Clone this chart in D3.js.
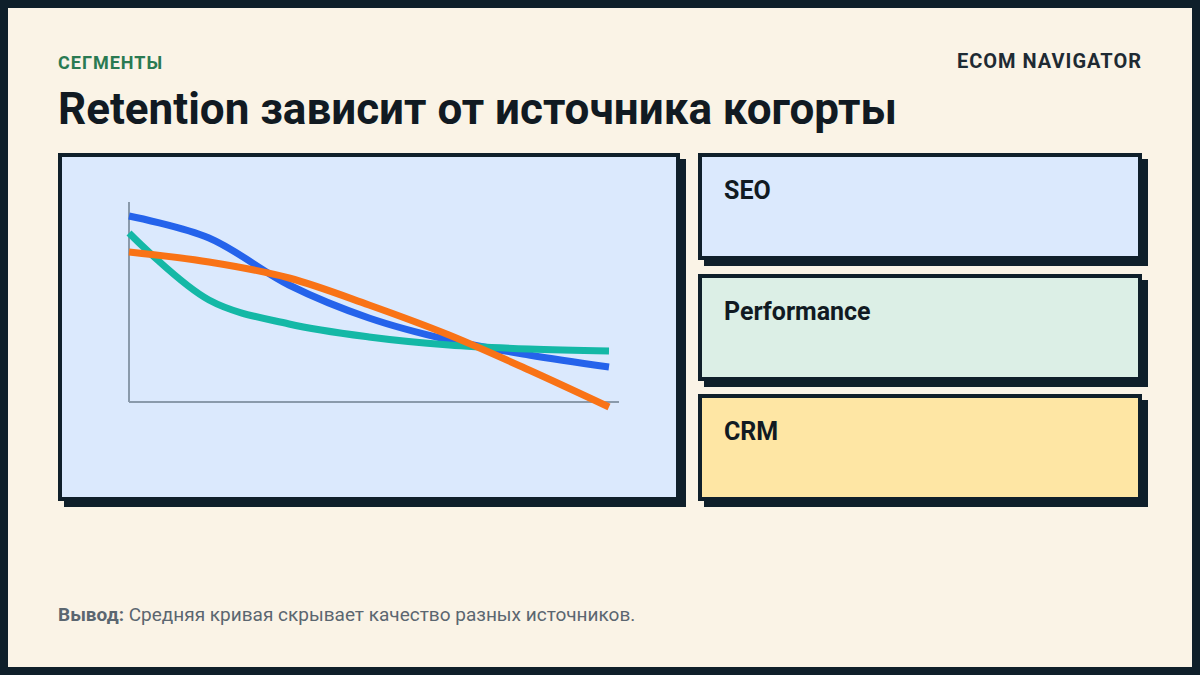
<!DOCTYPE html><html><head><meta charset="utf-8">
<script src="https://cdn.jsdelivr.net/npm/d3@7"></script>
<style>body{margin:0;background:#0f1f2a}svg{display:block}</style></head><body>
<svg id="c" width="1200" height="675"></svg>
<script>
const months=[0,2,4,6,8,10,12];
const seo=[93,82,58.5,42,31,23.5,17.5];
const performance=[84.5,51,39,32.5,28.5,26.5,25.5];
const crm=[75,70,62,48.5,33.5,16,-2.5];
const cards=["SEO","Performance","CRM"];
const cardFill=["#dbe9fd","#dcefe6","#fee6a4"];
const lineColors=["#2563eb","#14b8a6","#f97316"];
const svg=d3.select("#c"),dark="#0f1f2a";
svg.append("rect").attr("x",8).attr("y",8).attr("width",1184).attr("height",659).attr("fill","#faf3e6");
const F="Roboto, 'Noto Sans', sans-serif";
svg.append("text").attr("x",58).attr("y",69).text("СЕГМЕНТЫ").attr("font-family",F).attr("font-weight",700).attr("font-size",18).attr("letter-spacing",1).attr("fill","#2a7a52");
svg.append("text").attr("x",1142).attr("y",68).attr("text-anchor","end").text("ECOM NAVIGATOR").attr("font-family",F).attr("font-weight",700).attr("font-size",20).attr("letter-spacing",1).attr("fill","#1e2a33");
svg.append("text").attr("x",58).attr("y",124).text("Retention зависит от источника когорты").attr("font-family",F).attr("font-weight",700).attr("font-size",44).attr("fill","#111a22");
function panel(x,y,w,h,fill){
 svg.append("rect").attr("x",x+6).attr("y",y+6).attr("width",w).attr("height",h).attr("fill",dark);
 svg.append("rect").attr("x",x+2).attr("y",y+2).attr("width",w-4).attr("height",h-4).attr("fill",fill).attr("stroke",dark).attr("stroke-width",4);
}
panel(58,153,622,348,"#dbe9fd");
[153,274,394].forEach((y,i)=>{panel(698,y,444,107,cardFill[i]);
 svg.append("text").attr("x",724).attr("y",y+46).text(cards[i]).attr("font-family",F).attr("font-weight",700).attr("font-size",25).attr("fill","#111a22");});
const x=d3.scaleLinear().domain([0,12]).range([129,609]);
const y=d3.scaleLinear().domain([0,100]).range([402,202]);
svg.append("line").attr("x1",129).attr("x2",129).attr("y1",202).attr("y2",402).attr("stroke","#8a9aab").attr("stroke-width",2);
svg.append("line").attr("x1",129).attr("x2",619).attr("y1",402).attr("y2",402).attr("stroke","#8a9aab").attr("stroke-width",2);
const line=d3.line().x((d,i)=>x(months[i])).y(d=>y(d)).curve(d3.curveCatmullRom);
[seo,performance,crm].forEach((s,i)=>svg.append("path").attr("d",line(s)).attr("fill","none").attr("stroke",lineColors[i]).attr("stroke-width",7));
const t=svg.append("text").attr("x",58).attr("y",621).attr("font-family",F).attr("font-size",19).attr("fill","#5b6670");
t.append("tspan").attr("font-weight",700).text("Вывод:");
t.append("tspan").text(" Средняя кривая скрывает качество разных источников.");
</script></body></html>
